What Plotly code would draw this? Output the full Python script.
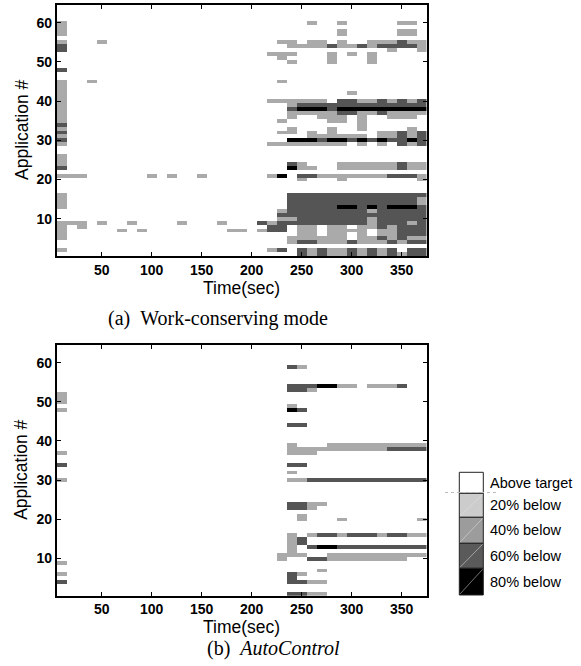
import plotly.graph_objects as go

# ---------------- data ----------------
TIME_BINS = [10, 20, 30, 40, 50, 60, 70, 80, 90, 100, 110, 120, 130, 140, 150, 160, 170, 180, 190,
             200, 210, 220, 230, 240, 250, 260, 270, 280, 290, 300, 310, 320, 330, 340, 350, 360, 370]
APPS = list(range(1, 65))
X_TICKS = [50, 100, 150, 200, 250, 300, 350]
Y_TICKS = [10, 20, 30, 40, 50, 60]

# level codes: 0 above target, 1 light gray, 2 dark gray, 3 black
# segments: (application, from time, to time, level)
WORK_CONSERVING = [
    (60, 10, 10, 1), (60, 260, 260, 1), (60, 290, 290, 1), (60, 350, 360, 1),
    (59, 10, 10, 1),
    (58, 10, 10, 1), (58, 290, 290, 1), (58, 350, 360, 1),
    (57, 10, 10, 1), (57, 290, 290, 1), (57, 350, 360, 1),
    (55, 10, 10, 1), (55, 50, 50, 1), (55, 230, 240, 1), (55, 260, 270, 1), (55, 290, 290, 1),
    (55, 320, 340, 1), (55, 350, 350, 2), (55, 360, 370, 1),
    (54, 10, 10, 2), (54, 240, 270, 1), (54, 280, 280, 2), (54, 290, 300, 1), (54, 310, 310, 2),
    (54, 320, 320, 1), (54, 330, 360, 2), (54, 370, 370, 1),
    (53, 10, 10, 2), (53, 340, 340, 1), (53, 370, 370, 1),
    (52, 220, 240, 1), (52, 280, 280, 1), (52, 300, 300, 1), (52, 320, 320, 1),
    (51, 230, 230, 1), (51, 280, 280, 1), (51, 320, 320, 1),
    (50, 240, 240, 1), (50, 280, 280, 1), (50, 320, 320, 1),
    (48, 10, 10, 2),
    (45, 10, 10, 1), (45, 40, 40, 1), (45, 230, 230, 1),
    (44, 10, 10, 1), (43, 10, 10, 1),
    (42, 10, 10, 1), (42, 300, 300, 1),
    (41, 10, 10, 1),
    (40, 10, 10, 1), (40, 220, 270, 1), (40, 290, 300, 2), (40, 310, 320, 1), (40, 330, 330, 2),
    (40, 340, 340, 1), (40, 350, 350, 2), (40, 360, 360, 1), (40, 370, 370, 2),
    (39, 10, 10, 1), (39, 240, 240, 1), (39, 250, 370, 2),
    (38, 10, 10, 1), (38, 240, 240, 2), (38, 250, 270, 3), (38, 280, 280, 2), (38, 290, 370, 3),
    (37, 10, 10, 1), (37, 240, 280, 1), (37, 290, 300, 2), (37, 310, 320, 1), (37, 330, 330, 2),
    (37, 340, 370, 1),
    (36, 10, 10, 1), (36, 240, 240, 1), (36, 270, 290, 1), (36, 310, 310, 1), (36, 340, 360, 1),
    (35, 10, 10, 1), (35, 230, 230, 1), (35, 280, 290, 1), (35, 310, 310, 1),
    (34, 10, 10, 2), (34, 310, 310, 1),
    (33, 10, 10, 1), (33, 240, 240, 1), (33, 280, 280, 1), (33, 310, 310, 1), (33, 360, 360, 1),
    (32, 10, 10, 2), (32, 230, 240, 1), (32, 260, 260, 1), (32, 280, 280, 1), (32, 330, 340, 1),
    (32, 350, 350, 2), (32, 360, 360, 1), (32, 370, 370, 2),
    (31, 10, 10, 1), (31, 260, 310, 1), (31, 330, 340, 1), (31, 350, 350, 2), (31, 360, 360, 1),
    (31, 370, 370, 2),
    (30, 10, 10, 2), (30, 240, 260, 3), (30, 270, 270, 2), (30, 280, 290, 3), (30, 300, 300, 2),
    (30, 310, 310, 3), (30, 320, 320, 2), (30, 330, 330, 3), (30, 340, 350, 2), (30, 360, 360, 3),
    (30, 370, 370, 2),
    (29, 10, 10, 1), (29, 220, 290, 1), (29, 310, 310, 1), (29, 330, 330, 1), (29, 350, 350, 2),
    (29, 360, 360, 1), (29, 370, 370, 2),
    (26, 10, 10, 1), (25, 10, 10, 1),
    (24, 10, 10, 1), (24, 240, 240, 2), (24, 250, 250, 1), (24, 290, 340, 1), (24, 350, 350, 2),
    (24, 360, 370, 1),
    (23, 10, 10, 2), (23, 240, 240, 3), (23, 250, 260, 1), (23, 290, 340, 1), (23, 350, 350, 2),
    (23, 360, 370, 1),
    (21, 10, 30, 1), (21, 100, 100, 1), (21, 120, 120, 1), (21, 150, 150, 1), (21, 220, 220, 1),
    (21, 230, 230, 3), (21, 250, 260, 2), (21, 270, 330, 1), (21, 340, 360, 2), (21, 370, 370, 1),
    (20, 250, 250, 1), (20, 290, 290, 1), (20, 370, 370, 1),
    (16, 10, 10, 1), (16, 240, 370, 2),
    (15, 10, 10, 1), (15, 240, 360, 2), (15, 370, 370, 1),
    (14, 10, 10, 1), (14, 240, 360, 2), (14, 370, 370, 1),
    (13, 10, 10, 1), (13, 240, 280, 2), (13, 290, 300, 3), (13, 310, 310, 2), (13, 320, 320, 3),
    (13, 330, 330, 2), (13, 340, 360, 3), (13, 370, 370, 2),
    (12, 230, 230, 1), (12, 240, 310, 2), (12, 320, 320, 1), (12, 330, 370, 2),
    (11, 230, 370, 2),
    (10, 230, 240, 1), (10, 250, 310, 2), (10, 320, 320, 1), (10, 330, 370, 2),
    (9, 10, 30, 1), (9, 50, 50, 1), (9, 80, 80, 1), (9, 130, 130, 1), (9, 170, 170, 1),
    (9, 210, 210, 2), (9, 220, 220, 1), (9, 230, 310, 2), (9, 320, 320, 1), (9, 330, 350, 2),
    (9, 360, 360, 1), (9, 370, 370, 2),
    (8, 10, 10, 1), (8, 30, 30, 1), (8, 220, 230, 2), (8, 250, 260, 1), (8, 280, 290, 1),
    (8, 310, 320, 1), (8, 330, 330, 2), (8, 340, 340, 1), (8, 350, 370, 2),
    (7, 10, 10, 1), (7, 70, 70, 1), (7, 90, 90, 1), (7, 180, 190, 1), (7, 210, 210, 1),
    (7, 220, 230, 2), (7, 250, 260, 1), (7, 280, 310, 1), (7, 330, 340, 1), (7, 350, 370, 2),
    (6, 10, 10, 1), (6, 250, 260, 1), (6, 280, 290, 1), (6, 310, 310, 1), (6, 330, 340, 1),
    (6, 350, 370, 2),
    (5, 10, 10, 1), (5, 240, 290, 1), (5, 310, 320, 1), (5, 330, 330, 2), (5, 340, 340, 1),
    (5, 350, 350, 2), (5, 360, 370, 1),
    (4, 240, 240, 1), (4, 250, 260, 2), (4, 270, 290, 1), (4, 300, 300, 2), (4, 310, 330, 1),
    (4, 340, 340, 2), (4, 350, 350, 1), (4, 360, 370, 2),
    (2, 10, 10, 1), (2, 220, 220, 1), (2, 230, 230, 2), (2, 250, 250, 2), (2, 260, 260, 1),
    (2, 270, 270, 2), (2, 280, 290, 1), (2, 300, 300, 2), (2, 310, 310, 1), (2, 320, 320, 2),
    (2, 330, 330, 1), (2, 340, 340, 2), (2, 360, 370, 2),
    (1, 250, 250, 2), (1, 260, 260, 1), (1, 270, 270, 2), (1, 280, 290, 1), (1, 300, 300, 2),
    (1, 310, 310, 1), (1, 320, 320, 2), (1, 330, 330, 1), (1, 340, 340, 2), (1, 350, 350, 1),
    (1, 360, 370, 2),
]

AUTOCONTROL = [
    (59, 240, 240, 2), (59, 250, 250, 1),
    (54, 240, 260, 2), (54, 270, 280, 3), (54, 290, 300, 1), (54, 320, 340, 1), (54, 350, 350, 2),
    (53, 240, 250, 2), (53, 260, 260, 1),
    (52, 10, 10, 1), (51, 10, 10, 1), (50, 10, 10, 1),
    (49, 240, 240, 1),
    (48, 10, 10, 1), (48, 240, 240, 3), (48, 250, 250, 2),
    (44, 240, 250, 2),
    (39, 240, 240, 1), (39, 280, 370, 1),
    (38, 240, 330, 1), (38, 340, 370, 2),
    (37, 10, 10, 1), (37, 240, 260, 1),
    (34, 10, 10, 2), (34, 240, 250, 2),
    (32, 240, 240, 1),
    (30, 10, 10, 1), (30, 240, 250, 1), (30, 260, 370, 2),
    (24, 240, 250, 2), (24, 260, 270, 1),
    (23, 240, 250, 2), (23, 260, 260, 1),
    (21, 250, 250, 1),
    (20, 250, 250, 1), (20, 290, 290, 1), (20, 370, 370, 1),
    (16, 240, 240, 1), (16, 260, 260, 1), (16, 270, 280, 2), (16, 290, 290, 1), (16, 300, 320, 2),
    (16, 330, 330, 1), (16, 340, 350, 2), (16, 360, 370, 1),
    (15, 240, 240, 1), (15, 250, 250, 2),
    (14, 240, 240, 1), (14, 250, 250, 2),
    (13, 240, 240, 1), (13, 260, 260, 2), (13, 270, 280, 3), (13, 290, 370, 2),
    (12, 240, 240, 1),
    (11, 230, 250, 1), (11, 280, 370, 1),
    (10, 230, 230, 1), (10, 260, 270, 2), (10, 280, 350, 1),
    (9, 10, 10, 1),
    (7, 270, 270, 1),
    (6, 10, 10, 1), (6, 240, 240, 2), (6, 250, 250, 1),
    (5, 240, 240, 2),
    (4, 10, 10, 2), (4, 240, 250, 2), (4, 260, 270, 1),
    (1, 240, 250, 2), (1, 260, 270, 1),
]

LEGEND_LABELS = ["Above target", "20% below", "40% below", "60% below", "80% below"]
LEGEND_COLORS = ["#ffffff", "#cccccc", "#9c9c9c", "#5a5a5a", "#000000"]
HEAT_COLORS = ["#ffffff", "#aaaaaa", "#555555", "#000000"]
CAPTIONS = ["(a)\u00a0\u00a0Work-conserving mode", "(b)\u00a0\u00a0<i>AutoControl</i>"]

# ---------------- build ----------------
W, H = 581, 666


def px(x):
    return x / W


def py(y):
    return 1 - y / H


def grid(segments):
    z = [[0 for _ in TIME_BINS] for _ in APPS]
    for app, t0, t1, lev in segments:
        for i, t in enumerate(TIME_BINS):
            if t0 <= t <= t1:
                z[app - 1][i] = lev
    return z


n = len(HEAT_COLORS)
cscale = []
for i, c in enumerate(HEAT_COLORS):
    cscale.append([i / n, c])
    cscale.append([(i + 1) / n, c])

fig = go.Figure()
for idx, seg in enumerate([WORK_CONSERVING, AUTOCONTROL]):
    fig.add_trace(go.Heatmap(
        x=TIME_BINS, y=APPS, z=grid(seg),
        zmin=-0.5, zmax=n - 0.5, colorscale=cscale, showscale=False,
        xaxis="x" if idx == 0 else "x2", yaxis="y" if idx == 0 else "y2",
        hoverinfo="skip",
    ))

x_dom = [px(56.7), px(426.7)]
tick_font = dict(family="Liberation Sans", size=14, color="black", weight="bold")
axis_common = dict(showline=True, linecolor="black", linewidth=1.6, mirror="ticks",
                   ticks="inside", ticklen=4, tickwidth=1, tickcolor="black",
                   showgrid=False, zeroline=False, tickfont=tick_font)

fig.update_layout(
    width=W, height=H, margin=dict(l=0, r=0, t=0, b=0),
    paper_bgcolor="white", plot_bgcolor="white", showlegend=False,
    xaxis=dict(domain=x_dom, range=[5, 375], tickvals=X_TICKS, anchor="y", **axis_common),
    yaxis=dict(domain=[py(256), py(5)], range=[0.5, 64.5], tickvals=Y_TICKS, anchor="x", **axis_common),
    xaxis2=dict(domain=x_dom, range=[5, 375], tickvals=X_TICKS, anchor="y2", **axis_common),
    yaxis2=dict(domain=[py(595.7), py(345)], range=[0.5, 64.5], tickvals=Y_TICKS, anchor="x2", **axis_common),
)

title_font = dict(family="Liberation Sans", size=17.5, color="black")
cap_font = dict(family="Liberation Serif", size=20, color="black")
annotations = []
for (bottom, top), cap, cap_x, cap_y in [((256, 5), CAPTIONS[0], 218, 318),
                                         ((595.7, 345), CAPTIONS[1], 273, 648)]:
    annotations.append(dict(text="Time(sec)", x=px(241.7), y=py(bottom + 31.5), xref="paper",
                            yref="paper", showarrow=False, font=title_font,
                            xanchor="center", yanchor="middle"))
    annotations.append(dict(text="Application #", x=px(21.5), y=py((bottom + top) / 2), xref="paper",
                            yref="paper", showarrow=False, font=title_font, textangle=-90,
                            xanchor="center", yanchor="middle"))
    annotations.append(dict(text=cap, x=px(cap_x), y=py(cap_y), xref="paper", yref="paper",
                            showarrow=False, font=cap_font, xanchor="center", yanchor="middle"))

# legend boxes
edges = [472.3, 493.3, 517.3, 543.3, 568.3, 595]
shapes = []
for i, (lab, col) in enumerate(zip(LEGEND_LABELS, LEGEND_COLORS)):
    y0, y1 = edges[i], edges[i + 1]
    shapes.append(dict(type="rect", xref="paper", yref="paper", x0=px(459.3), x1=px(483.3),
                       y0=py(y1), y1=py(y0), fillcolor=col, line=dict(color="#222222", width=1)))
    if i > 0:
        shapes.append(dict(type="line", xref="paper", yref="paper", x0=px(460), x1=px(482.6),
                           y0=py(y1 - 1), y1=py(y0 + 1), line=dict(color="#e6e6e6", width=0.5)))
    annotations.append(dict(text=lab, x=px(488), y=py((y0 + y1) / 2), xref="paper", yref="paper",
                            showarrow=False, xanchor="left", yanchor="middle",
                            font=dict(family="Liberation Sans", size=14.5, color="black")))
shapes.append(dict(type="line", xref="paper", yref="paper", x0=px(445), x1=px(497),
                   y0=py(492.5), y1=py(492.5), line=dict(color="#bbbbbb", width=1, dash="dot")))

fig.update_layout(annotations=annotations, shapes=shapes)
# remove the page's default body margin so the figure sits at the window's top-left corner
fig.write_html("out.html", config={"displayModeBar": False},
               post_script="document.body.style.margin='0px';")
